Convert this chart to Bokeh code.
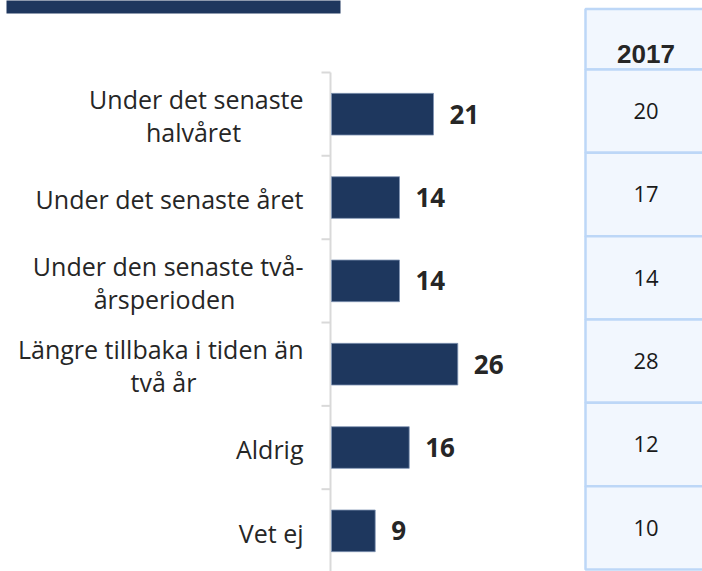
from bokeh.plotting import figure
from bokeh.models import Range1d, ColumnDataSource
from bokeh.core.properties import value
from bokeh.embed import file_html
from bokeh.resources import INLINE

# ---- data ----
categories = [
    ["Under det senaste", "halvåret"],
    ["Under det senaste året"],
    ["Under den senaste två-", "årsperioden"],
    ["Längre tillbaka i tiden än", "två år"],
    ["Aldrig"],
    ["Vet ej"],
]
values_2019 = [21, 14, 14, 26, 16, 9]
values_2017 = [20, 17, 14, 28, 12, 10]
table_header = "2017"

# ---- layout (screen px -> data) ----
W, H = 702, 571
PX_PER_UNIT = 4.857
ORIGIN_X = 331          # screen x of value 0
ROW_PX = 83.33
ROW0_Y = 113.7          # screen y of first category centre
OFF = 0


def vx(sx):
    return (sx - ORIGIN_X) / PX_PER_UNIT


def vy(sy):
    return (sy - ROW0_Y) / ROW_PX


p = figure(width=W, height=H, output_backend="svg", toolbar_location=None,
           x_range=Range1d(vx(OFF), vx(OFF + W)),
           y_range=Range1d(vy(OFF + H), vy(OFF)),
           min_border=0, min_border_left=0, min_border_right=0,
           min_border_top=0, min_border_bottom=0)
p.axis.visible = False
p.grid.visible = False
p.outline_line_color = None
p.background_fill_color = "white"

DARK = "#1E375E"
TXT = "#262626"

# banner (top strip)
p.quad(left=[vx(6)], right=[vx(340)], top=[vy(-10)], bottom=[vy(13)],
       fill_color=DARK, line_color=None)

n = len(values_2019)
ys = list(range(n))

# axis line + ticks
p.segment(x0=[vx(330)], x1=[vx(330)], y0=[-0.5], y1=[n - 0.5 + 0.2],
          line_color="#D9D9D9", line_width=2)
p.segment(x0=[vx(321)] * (n + 1), x1=[vx(330)] * (n + 1),
          y0=[i - 0.5 for i in range(n + 1)], y1=[i - 0.5 for i in range(n + 1)],
          line_color="#D9D9D9", line_width=2)

# bars
src = ColumnDataSource(dict(y=ys, v=values_2019, lab=[str(v) for v in values_2019]))
p.hbar(y="y", left=0, right="v", height=0.5, source=src,
       fill_color=DARK, line_color="#7F93B3", line_width=0.8)
p.text(x="v", y="y", text="lab", source=src, x_offset=16,
       text_align="left", text_baseline="middle",
       text_font=value("Open Sans"), text_font_style="bold",
       text_font_size="26px", text_color=TXT)

# category labels
LABEL_RIGHT = vx(303)
LINE_PX = 33
FONT = "Open Sans"
FSIZE = "25px"
first_x, first_y, first_t = [], [], []
second_x, second_y, second_t = [], [], []
second_centres = {0: 193, 2: 164, 3: 163}
for i, lines in enumerate(categories):
    if len(lines) == 1:
        first_x.append(LABEL_RIGHT); first_y.append(i + 0.02); first_t.append(lines[0])
    else:
        first_x.append(LABEL_RIGHT)
        first_y.append(i + 0.02 - (LINE_PX / 2) / ROW_PX)
        first_t.append(lines[0])
        second_x.append(vx(second_centres[i]))
        second_y.append(i + 0.02 + (LINE_PX / 2) / ROW_PX)
        second_t.append(lines[1])
p.text(x=first_x, y=first_y, text=first_t, text_align="right",
       text_baseline="middle", text_font=value(FONT),
       text_font_size=FSIZE, text_color=TXT)
p.text(x=second_x, y=second_y, text=second_t, text_align="center",
       text_baseline="middle", text_font=value(FONT),
       text_font_size=FSIZE, text_color=TXT)

# table on the right
T_LEFT, T_RIGHT = vx(585), vx(760)
row_edges = [vy(8.5), vy(69)] + [vy(69) + k + 1 for k in range(n)]
p.quad(left=[T_LEFT] * (n + 1), right=[T_RIGHT] * (n + 1),
       top=row_edges[:-1], bottom=row_edges[1:],
       fill_color="#F2F7FE", line_color="#BDD7F7", line_width=2.5)
p.text(x=[vx(645.5)], y=[vy(53)], text=[table_header], text_align="center",
       text_baseline="middle", text_font=value("Liberation Sans"),
       text_font_style="bold", text_font_size="26px", text_color=TXT)
tsrc = ColumnDataSource(dict(y=[vy(69) + k + 0.5 for k in range(n)],
                             lab=[str(v) for v in values_2017]))
p.text(x=vx(645.5), y="y", text="lab", source=tsrc, text_align="center",
       text_baseline="middle", text_font=value("Open Sans"),
       text_font_size="22px", text_color="#1A1A1A")

open("out.html", "w").write(file_html(p, INLINE))
